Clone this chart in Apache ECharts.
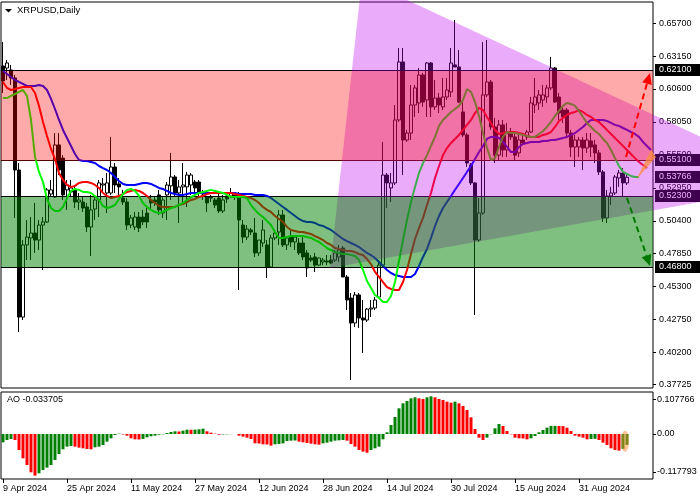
<!DOCTYPE html>
<html><head><meta charset="utf-8">
<script src="https://cdn.jsdelivr.net/npm/echarts@6/dist/echarts.min.js"></script>
<style>html,body{margin:0;padding:0;background:#fff}#c{width:700px;height:500px}</style>
</head><body><div id="c"></div>
<script>
// ---------------- data ----------------
const open = [.6238,.6222,.6207,.6145,.5433,.4295,.4853,.4907,.4945,.4891,
.5007,.5031,.5247,.5224,.5627,.5525,.5279,.5263,.5279,.5185,
.5185,.5147,.4992,.5131,.5201,.5317,.5255,.5255,.5456,.5325,
.5216,.5185,.5007,.4992,.5069,.5069,.5100,.5201,.5201,.5240,
.5100,.5240,.5310,.5379,.5255,.5302,.5302,.5317,.5340,.5340,
.5240,.5224,.5224,.5201,.5216,.5116,.5232,.5232,.5240,.5240,
.5007,.4914,.4969,.4945,.4791,.4868,.4853,.4682,.4907,.4953,
.5085,.4853,.4914,.4876,.4868,.4868,.4791,.4752,.4760,.4697,
.4721,.4729,.4736,.4736,.4760,.4829,.4605,.4442,.4249,.4466,
.4288,.4272,.4357,.4365,.4450,.4697,.5394,.5294,.5333,.5820,
.6269,.5665,.5719,.5936,.5952,.6168,.5975,.6261,.5921,.5990,
.5921,.5998,.6037,.6246,.6230,.5882,.5704,.5472,.5333,.4891,
.5100,.6014,.6114,.5766,.5548,.5782,.5588,.5719,.5689,.5565,
.5665,.5689,.5727,.5936,.5952,.5975,.5998,.6068,.6222,.5998,
.5897,.5897,.5719,.5611,.5611,.5665,.5603,.5658,.5627,.5565,
.5418,.5062,.5232,.5255,.5371,.5410,.5333];
const high = [.6424,.6284,.6246,.6168,.5487,.4891,.5046,.5069,.5178,.5046,
.5069,.5294,.5356,.5719,.5719,.5548,.5356,.5356,.5317,.5255,
.5224,.5178,.5240,.5224,.5356,.5371,.5410,.5689,.5487,.5371,
.5279,.5216,.5085,.5108,.5108,.5124,.5139,.5240,.5232,.5279,
.5232,.5340,.5565,.5394,.5356,.5487,.5418,.5410,.5356,.5356,
.5279,.5232,.5240,.5216,.5255,.5240,.5255,.5294,.5263,.5263,
.5046,.5007,.4984,.5062,.4891,.5046,.4891,.4930,.4969,.5124,
.5124,.4914,.4969,.4930,.4907,.4914,.4814,.4775,.4791,.4752,
.4752,.4775,.4775,.4814,.4853,.4845,.4620,.4481,.4489,.4481,
.4427,.4365,.4427,.4450,.4736,.5650,.5410,.5410,.5936,.6377,
.6377,.5743,.6091,.6091,.6222,.6184,.6269,.6269,.6130,.6029,
.6145,.6145,.6377,.6594,.6362,.5975,.5719,.5487,.5340,.5216,
.6424,.6439,.6130,.5836,.5820,.5820,.5797,.5758,.5719,.5719,
.5704,.5743,.5998,.6145,.6052,.6091,.6091,.6308,.6230,.6029,
.5921,.5913,.5743,.5704,.5689,.5689,.5719,.5719,.5665,.5588,
.5433,.5279,.5302,.5394,.5433,.5448,.5394];
const low = [.6029,.6130,.6091,.5062,.4179,.4272,.4736,.4736,.4791,.4814,
.4659,.5023,.5224,.5216,.5394,.5201,.5124,.5224,.5139,.5124,
.5108,.4953,.4767,.5046,.5069,.5263,.5100,.5240,.5255,.5240,
.5162,.4969,.4984,.4969,.4953,.5007,.4984,.5124,.5154,.5085,
.5062,.5046,.5201,.5224,.5023,.5162,.5147,.5240,.5263,.5224,
.5201,.5108,.5185,.5139,.5100,.5100,.5178,.5216,.5201,.4504,
.4868,.4891,.4930,.4760,.4767,.4837,.4597,.4675,.4891,.4853,
.4837,.4814,.4837,.4814,.4775,.4736,.4605,.4721,.4644,.4690,
.4697,.4697,.4705,.4721,.4721,.4605,.4349,.3808,.4218,.4210,
.4017,.4257,.4295,.4349,.4442,.4682,.5139,.5185,.5317,.5805,
.5394,.5650,.5665,.5843,.5874,.5921,.5843,.5843,.5897,.5874,
.5897,.5975,.5998,.6230,.5952,.5689,.5456,.5317,.4311,.4876,
.5085,.5998,.5743,.5487,.5510,.5534,.5534,.5665,.5510,.5534,
.5627,.5665,.5719,.5874,.5897,.5921,.5952,.6052,.5952,.5820,
.5797,.5689,.5534,.5456,.5534,.5433,.5565,.5534,.5487,.5394,
.5031,.5023,.5162,.5240,.5302,.5224,.5317];
const close = [.6122,.6261,.6145,.5433,.4295,.4853,.4914,.4945,.4891,.5007,
.5031,.5279,.5279,.5627,.5433,.5240,.5317,.5294,.5185,.5201,
.5139,.4992,.5124,.5201,.5333,.5325,.5333,.5456,.5317,.5302,
.5185,.5007,.5062,.5069,.4984,.5031,.5031,.5178,.5185,.5124,
.5201,.5317,.5379,.5255,.5302,.5317,.5394,.5394,.5294,.5255,
.5232,.5178,.5216,.5162,.5116,.5201,.5209,.5255,.5232,.5046,
.4914,.4976,.4953,.4791,.4891,.4969,.4682,.4907,.4945,.5085,
.4853,.4907,.4876,.4914,.4791,.4760,.4675,.4736,.4697,.4752,
.4736,.4721,.4713,.4791,.4814,.4605,.4427,.4249,.4466,.4288,
.4272,.4357,.4365,.4427,.4697,.5394,.5333,.5333,.5820,.6269,
.5665,.5719,.5936,.6068,.6168,.5959,.6261,.5921,.5990,.5936,
.5998,.6052,.6261,.6230,.5959,.5704,.5487,.5333,.4891,.5100,
.6014,.6114,.5766,.5548,.5782,.5588,.5719,.5689,.5548,.5665,
.5642,.5727,.5952,.5998,.6014,.6014,.6068,.6222,.5959,.5874,
.5843,.5719,.5611,.5665,.5665,.5603,.5665,.5611,.5565,.5418,
.5062,.5232,.5255,.5379,.5410,.5333,.53766];
// Alligator lines (shifted forward past the last bar)
const jaw = [.6199,.6176,.6153,.6130,.6114,.6099,.6083,.6083,.6083,.6091,
.6083,.6052,.5983,.5905,.5820,.5743,.5681,.5619,.5557,.5510,
.5503,.5503,.5495,.5487,.5464,.5448,.5433,.5410,.5379,.5348,
.5325,.5317,.5317,.5317,.5325,.5333,.5333,.5325,.5310,.5294,
.5286,.5271,.5255,.5247,.5240,.5240,.5247,.5255,.5255,.5255,
.5255,.5255,.5255,.5255,.5255,.5255,.5255,.5255,.5255,.5247,
.5247,.5247,.5247,.5240,.5240,.5240,.5232,.5216,.5193,.5170,
.5147,.5124,.5100,.5077,.5054,.5038,.5031,.5031,.5023,.5007,
.5000,.4984,.4969,.4945,.4922,.4899,.4883,.4868,.4853,.4837,
.4814,.4791,.4775,.4752,.4721,.4690,.4659,.4636,.4620,.4613,
.4605,.4605,.4605,.4628,.4690,.4760,.4822,.4907,.5000,.5077,
.5139,.5185,.5232,.5279,.5325,.5371,.5418,.5464,.5518,.5572,
.5619,.5673,.5689,.5689,.5681,.5650,.5611,.5572,.5572,.5611,
.5634,.5642,.5650,.5650,.5650,.5658,.5658,.5665,.5665,.5673,
.5681,.5689,.5704,.5719,.5743,.5766,.5797,.5820,.5820,.5820,
.5820,.5812,.5797,.5782,.5774,.5758,.5743,.5727,.5712,.5689,
.5650,.5619,.5588];
const teeth = [.6114,.6068,.6052,.6060,.6068,.6075,.6075,.6075,.6029,.5929,
.5805,.5696,.5596,.5518,.5410,.5356,.5317,.5302,.5310,.5333,
.5340,.5340,.5333,.5317,.5294,.5255,.5232,.5216,.5224,.5232,
.5247,.5263,.5271,.5279,.5271,.5255,.5232,.5201,.5178,.5154,
.5147,.5147,.5147,.5147,.5162,.5170,.5185,.5201,.5209,.5224,
.5232,.5247,.5255,.5255,.5255,.5255,.5255,.5255,.5247,.5240,
.5232,.5224,.5216,.5201,.5178,.5147,.5124,.5108,.5077,.5054,
.5031,.4992,.4969,.4961,.4953,.4953,.4945,.4938,.4922,.4907,
.4891,.4868,.4853,.4829,.4822,.4814,.4806,.4806,.4798,.4783,
.4775,.4744,.4705,.4644,.4605,.4566,.4527,.4512,.4504,.4504,
.4566,.4659,.4783,.4899,.4984,.5062,.5162,.5255,.5371,.5464,
.5548,.5603,.5642,.5673,.5704,.5743,.5782,.5820,.5874,.5913,
.5897,.5843,.5797,.5743,.5712,.5719,.5727,.5727,.5727,.5719,
.5712,.5696,.5689,.5689,.5689,.5704,.5712,.5727,.5766,.5812,
.5836,.5859,.5874,.5882,.5897,.5882,.5859,.5843,.5820,.5805,
.5774,.5743,.5712,.5681,.5650,.5619,.5588,.5557,.5525,.5495,
.5472,.5448];
const lips = [.5990,.5990,.6006,.6021,.6037,.6052,.6006,.5820,.5534,.5418,
.5340,.5209,.5139,.5116,.5116,.5147,.5216,.5271,.5286,.5279,
.5263,.5263,.5255,.5232,.5201,.5154,.5139,.5147,.5162,.5209,
.5247,.5279,.5286,.5271,.5232,.5178,.5147,.5124,.5108,.5100,
.5108,.5124,.5139,.5147,.5162,.5178,.5201,.5224,.5240,.5255,
.5263,.5271,.5279,.5271,.5263,.5255,.5240,.5224,.5224,.5224,
.5224,.5216,.5162,.5124,.5093,.5069,.5038,.5007,.4953,.4907,
.4907,.4914,.4922,.4922,.4922,.4922,.4914,.4907,.4891,.4876,
.4853,.4829,.4814,.4798,.4791,.4783,.4783,.4775,.4767,.4736,
.4659,.4574,.4520,.4466,.4442,.4411,.4411,.4458,.4566,.4729,
.4891,.5046,.5185,.5302,.5410,.5487,.5548,.5619,.5689,.5774,
.5820,.5851,.5882,.5905,.5929,.5975,.6060,.6037,.5959,.5851,
.5719,.5603,.5510,.5525,.5611,.5689,.5727,.5719,.5719,.5712,
.5704,.5696,.5689,.5689,.5712,.5735,.5766,.5805,.5851,.5890,
.5929,.5952,.5944,.5929,.5890,.5843,.5797,.5766,.5735,.5712,
.5673,.5642,.5588,.5525,.5464,.5418,.5402,.5387,.5379,.5379];
// Awesome Oscillator
const ao = [-0.0259,-0.0186,-0.0155,-0.0186,-0.0497,-0.0756,-0.0963,-0.1190,-0.1294,-0.1221,
-0.1118,-0.1045,-0.0963,-0.0807,-0.0621,-0.0476,-0.0393,-0.0373,-0.0393,-0.0424,
-0.0445,-0.0466,-0.0476,-0.0414,-0.0393,-0.0342,-0.0238,-0.0135,-0.0031,0.0010,
-0.0015,-0.0052,-0.0135,-0.0166,-0.0171,-0.0155,-0.0104,-0.0072,-0.0052,-0.0021,
-0.0010,0.0031,0.0062,0.0083,0.0078,0.0104,0.0135,0.0130,0.0135,0.0145,
0.0166,0.0083,0.0041,0.0010,-0.0020,-0.0015,-0.0010,-0.0005,0.0000,-0.0052,
-0.0083,-0.0114,-0.0155,-0.0290,-0.0295,-0.0321,-0.0326,-0.0362,-0.0321,-0.0311,
-0.0290,-0.0217,-0.0207,-0.0202,-0.0238,-0.0259,-0.0279,-0.0300,-0.0321,-0.0331,
-0.0290,-0.0269,-0.0238,-0.0207,-0.0197,-0.0186,-0.0207,-0.0311,-0.0393,-0.0497,
-0.0549,-0.0580,-0.0497,-0.0445,-0.0393,-0.0166,0.0052,0.0279,0.0528,0.0797,
0.0952,0.1025,0.1107,0.1139,0.1107,0.1087,0.1139,0.1170,0.1139,0.1087,
0.1056,0.1004,0.0973,0.1004,0.0952,0.0869,0.0745,0.0518,0.0155,-0.0114,
-0.0186,-0.0114,-0.0010,0.0176,0.0311,0.0248,0.0093,-0.0010,-0.0114,-0.0135,
-0.0140,-0.0166,-0.0135,-0.0062,0.0052,0.0124,0.0197,0.0248,0.0252,0.0248,
0.0245,0.0197,0.0093,-0.0052,-0.0083,-0.0114,-0.0166,-0.0155,-0.0150,-0.0186,
-0.0269,-0.0342,-0.0445,-0.0497,-0.0518,-0.0460,-0.033705];
// axis ticks / labels
const priceTicks = [0.657,0.6315,0.606,0.5805,0.555,0.5295,0.504,0.4785,0.453,0.4275,0.402,0.37725];
const aoTicks = [0.107766, 0, -0.117793];
const aoTickLabels = ['0.107766','0.00','-0.117793'];
const dateTickLabels = ['9 Apr 2024','25 Apr 2024','11 May 2024','27 May 2024','12 Jun 2024','28 Jun 2024','14 Jul 2024','30 Jul 2024','15 Aug 2024','31 Aug 2024'];
// annotation levels (price) and shapes in (bar index, price)
const hLevels = [0.621, 0.551, 0.523, 0.468];
const zoneHigh = [0.621, 0.523];
const zoneLow = [0.551, 0.468];
const boxValues = [0.621, 0.551, 0.53766, 0.523, 0.468];
const triIdx = [89.75, 81.75, 199.75];
const triPrice = [0.6911, 0.4675, 0.5325];
const arrowFromIdx = [155.75, 156];
const arrowFromPrice = [0.5534, 0.5216];
const arrowToIdx = [161.75, 161.75];
const arrowToPrice = [0.6184, 0.4690];
const orangeIdx = [158.25, 162, 163.25];
const orangePrice = [0.5356, 0.5588, 0.5534];
const aoMarkIdx = [155.5];
const aoMarkValue = [-0.0224];

// ---------------- build ----------------
const N = 163;
const MONTHS = ['Jan','Feb','Mar','Apr','May','Jun','Jul','Aug','Sep','Oct','Nov','Dec'];
const dates = [];
for (let i = 0; i < N; i++) {
  const d = new Date(Date.UTC(2024, 3, 9) + i * 86400000);
  dates.push(d.getUTCDate() + ' ' + MONTHS[d.getUTCMonth()] + ' ' + d.getUTCFullYear());
}
const candles = open.map((o, i) => [o, close[i], low[i], high[i]]);
const aoData = ao.map((v, i) => ({
  value: v,
  itemStyle: { color: (i === 0 || v > ao[i - 1]) ? '#008000' : '#ff0000' }
}));
const FONT = 'Liberation Sans';
const isDateTick = (idx, val) => dateTickLabels.indexOf(val) >= 0;

const chart = echarts.init(document.getElementById('c'), null, { renderer: 'canvas' });
const option = {
  animation: false,
  backgroundColor: '#fff',
  grid: [
    { left: 1, top: 2, width: 652, height: 386, show: true, borderColor: '#000', borderWidth: 1, backgroundColor: 'transparent' },
    { left: 1, top: 392, width: 652, height: 87, show: true, borderColor: '#000', borderWidth: 1, backgroundColor: 'transparent' }
  ],
  xAxis: [
    { type: 'category', gridIndex: 0, data: dates, boundaryGap: true, show: false },
    { type: 'category', gridIndex: 1, data: dates, boundaryGap: true,
      axisLine: { show: false, onZero: false },
      axisTick: { show: true, alignWithLabel: true, interval: isDateTick, length: 4, lineStyle: { color: '#000' } },
      axisLabel: { interval: isDateTick, align: 'left', margin: 5, fontSize: 9, fontFamily: FONT, color: '#000' },
      splitLine: { show: false } },
    { type: 'value', gridIndex: 0, min: -0.5, max: N - 0.5, show: false, axisLine: { onZero: false } },
    { type: 'value', gridIndex: 1, min: -0.5, max: N - 0.5, show: false, axisLine: { onZero: false } }
  ],
  yAxis: [
    { type: 'value', gridIndex: 0, position: 'right', min: 0.3746, max: 0.6733,
      splitLine: { show: false }, axisLine: { show: false, onZero: false },
      axisTick: { show: true, length: 3, customValues: priceTicks, lineStyle: { color: '#000' } },
      axisLabel: { customValues: priceTicks, formatter: v => v.toFixed(5), margin: 6, fontSize: 9, fontFamily: FONT, color: '#000' } },
    { type: 'value', gridIndex: 1, position: 'right', min: -0.1398, max: 0.1304,
      splitLine: { show: false }, axisLine: { show: false, onZero: false },
      axisTick: { show: true, length: 3, customValues: aoTicks, lineStyle: { color: '#000' } },
      axisLabel: { customValues: aoTicks,
        formatter: v => { let k = 0, best = 1e9; aoTicks.forEach((t, j) => { const d = Math.abs(t - v); if (d < best) { best = d; k = j; } }); return aoTickLabels[k]; },
        margin: 4, fontSize: 9, fontFamily: FONT, color: '#000' } }
  ],
  graphic: [
    { type: 'polygon', shape: { points: [[5, 9], [12, 9], [8.5, 12.5]] }, style: { fill: '#000' } },
    { type: 'text', x: 17, y: 5, style: { text: 'XRPUSD,Daily', font: '9.5px "Liberation Sans"', fill: '#000' } },
    { type: 'text', x: 7, y: 395, style: { text: 'AO ' + ao[ao.length - 1].toFixed(6), font: '9px "Liberation Sans"', fill: '#000' } }
  ],
  series: [
    { type: 'candlestick', xAxisIndex: 0, yAxisIndex: 0, data: candles, barWidth: 3, z: 2,
      itemStyle: { color: '#fff', color0: '#000', borderColor: '#000', borderColor0: '#000', borderColorDoji: '#000', borderWidth: 1 } },
    { type: 'line', xAxisIndex: 0, yAxisIndex: 0, data: jaw, showSymbol: false, z: 3, lineStyle: { color: '#0000ff', width: 2 } },
    { type: 'line', xAxisIndex: 0, yAxisIndex: 0, data: teeth, showSymbol: false, z: 3, lineStyle: { color: '#ff0000', width: 2 } },
    { type: 'line', xAxisIndex: 0, yAxisIndex: 0, data: lips, showSymbol: false, z: 3, lineStyle: { color: '#00ff00', width: 2 } },
    // horizontal level lines
    { type: 'custom', xAxisIndex: 2, yAxisIndex: 0, z: 3, clip: true, silent: true,
      data: hLevels.map(v => [0, v]),
      renderItem: (params, api) => {
        const cs = params.coordSys;
        const y = Math.round(api.coord([0, hLevels[params.dataIndex]])[1]);
        return { type: 'rect', shape: { x: cs.x, y: y, width: cs.width, height: 1 }, style: { fill: '#000' } };
      } },
    // price boxes on the axis
    { type: 'custom', xAxisIndex: 2, yAxisIndex: 0, z: 4, clip: false, silent: true,
      data: boxValues.map(v => [0, v]),
      renderItem: (params, api) => {
        const cs = params.coordSys;
        const v = boxValues[params.dataIndex];
        const y = Math.round(api.coord([0, v])[1]);
        return { type: 'group', children: [
          { type: 'rect', shape: { x: cs.x + cs.width + 2, y: y - 6, width: 46, height: 12 }, style: { fill: '#000' } },
          { type: 'text', x: cs.x + cs.width + 6, y: y, style: { text: v.toFixed(5), fill: '#fff', font: '9px "Liberation Sans"', verticalAlign: 'middle', align: 'left' } }
        ] };
      } },
    // purple triangle
    { type: 'custom', xAxisIndex: 2, yAxisIndex: 0, z: 5, clip: false, silent: true,
      data: [[0, 0.5]],
      renderItem: (params, api) => ({
        type: 'polygon',
        shape: { points: triIdx.map((x, i) => api.coord([x, triPrice[i]])) },
        style: { fill: 'rgba(190,0,240,0.33)' }
      }) },
    // zones
    { type: 'custom', xAxisIndex: 2, yAxisIndex: 0, z: 6, clip: true, silent: true,
      data: zoneHigh.map(v => [0, v]),
      renderItem: (params, api) => {
        const cs = params.coordSys;
        const i = params.dataIndex;
        const y1 = Math.round(api.coord([0, zoneHigh[i]])[1]) + 1;
        const y2 = Math.round(api.coord([0, zoneLow[i]])[1]) + (i === 0 ? 1 : 0);
        return { type: 'rect', shape: { x: cs.x, y: y1, width: cs.width, height: y2 - y1 },
          style: { fill: i === 0 ? 'rgba(255,0,0,0.333)' : 'rgba(0,128,0,0.5)' } };
      } },
    // orange sliver
    { type: 'custom', xAxisIndex: 2, yAxisIndex: 0, z: 7, clip: false, silent: true,
      data: [[0, 0.5]],
      renderItem: (params, api) => ({
        type: 'polygon',
        shape: { points: orangeIdx.map((x, i) => api.coord([x, orangePrice[i]])) },
        style: { fill: 'rgba(255,140,60,0.75)' }
      }) },
    // dashed arrows
    { type: 'custom', xAxisIndex: 2, yAxisIndex: 0, z: 8, clip: false, silent: true,
      data: arrowFromIdx.map((x, i) => [x, arrowFromPrice[i]]),
      renderItem: (params, api) => {
        const i = params.dataIndex;
        const color = i === 0 ? '#ff0000' : '#007a00';
        const p0 = api.coord([arrowFromIdx[i], arrowFromPrice[i]]);
        const p1 = api.coord([arrowToIdx[i], arrowToPrice[i]]);
        const dx = p1[0] - p0[0], dy = p1[1] - p0[1];
        const L = Math.hypot(dx, dy), ux = dx / L, uy = dy / L;
        const hl = 11, hw = 5;
        const b = [p1[0] - ux * hl, p1[1] - uy * hl];
        return { type: 'group', children: [
          { type: 'line', shape: { x1: p0[0], y1: p0[1], x2: b[0], y2: b[1] }, style: { stroke: color, lineWidth: 2, lineDash: [6, 4] } },
          { type: 'polygon', shape: { points: [p1, [b[0] - uy * hw, b[1] + ux * hw], [b[0] + uy * hw, b[1] - ux * hw]] }, style: { fill: color } }
        ] };
      } },
    // AO
    { type: 'bar', xAxisIndex: 1, yAxisIndex: 1, data: aoData, barWidth: 3, z: 2 },
    { type: 'custom', xAxisIndex: 3, yAxisIndex: 1, z: 3, clip: false, silent: true,
      data: aoMarkIdx.map((x, i) => [x, aoMarkValue[i]]),
      renderItem: (params, api) => {
        const c = api.coord([aoMarkIdx[params.dataIndex], aoMarkValue[params.dataIndex]]);
        return { type: 'ellipse', shape: { cx: c[0], cy: c[1], rx: 4, ry: 10.5 }, style: { fill: 'rgba(255,140,50,0.5)' } };
      } }
  ]
};
chart.setOption(option);
</script>
</body></html>
